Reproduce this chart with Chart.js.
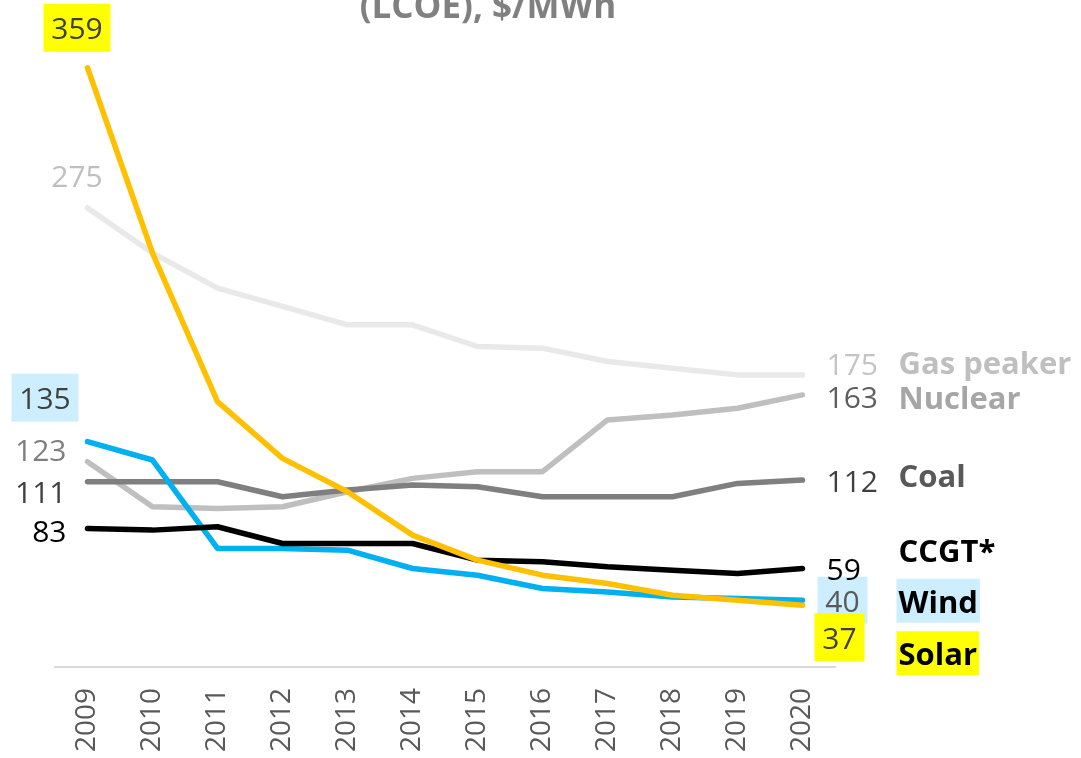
<!DOCTYPE html>
<html><head><meta charset="utf-8">
<script src="https://cdn.jsdelivr.net/npm/chart.js@4"></script>
<style>html,body{margin:0;padding:0;background:#fff;overflow:hidden}#wrap{width:1081px;height:758px;position:relative}</style>
</head><body><div id="wrap"><canvas id="c"></canvas></div>
<script>
// ---- data ----
const years = ['2009','2010','2011','2012','2013','2014','2015','2016','2017','2018','2019','2020'];
const gasPeaker = [275, 248, 227, 216, 205, 205, 192, 191, 183, 179, 175, 175];
const nuclear   = [123, 96, 95, 96, 105, 113, 117, 117, 148, 151, 155, 163];
const coal      = [111, 111, 111, 102, 106, 109, 108, 102, 102, 102, 110, 112];
const ccgt      = [83, 82, 84, 74, 74, 74, 64, 63, 60, 58, 56, 59];
const wind      = [135, 124, 71, 71, 70, 59, 55, 47, 45, 42, 41, 40];
const solar     = [359, 248, 159, 125, 105, 79, 64, 55, 50, 43, 40, 37];
const seriesNames = ['Gas peaker', 'Nuclear', 'Coal', 'CCGT*', 'Wind', 'Solar'];
const titleText = '(LCOE), $/MWh';

// ---- styles ----
const FONT = '"Open Sans", "Noto Sans", sans-serif';
const BLUEBOX = '#cdeeff', YELBOX = '#ffff00';
const styles = [
  {line:'#e9e9e9', order:5,
   first:{dx:-10.5, dy:-32, align:'center', color:'#bfbfbf'},
   last:{dx:24, dy:-10, align:'left', color:'#c4c4c4'},
   name:{dy:-12, color:'#bfbfbf'}},
  {line:'#bfbfbf', order:4,
   first:{dx:-21, dy:-11, align:'right', color:'#7f7f7f'},
   last:{dx:24, dy:3, align:'left', color:'#5f5f5f'},
   name:{dy:3.5, color:'#a6a6a6'}},
  {line:'#7f7f7f', order:3,
   first:{dx:-21, dy:11, align:'right', color:'#404040'},
   last:{dx:24, dy:1, align:'left', color:'#404040'},
   name:{dy:-3.5, color:'#595959'}},
  {line:'#000000', order:1,
   first:{dx:-21, dy:3, align:'right', color:'#000000'},
   last:{dx:24, dy:1, align:'left', color:'#000000'},
   name:{dy:-17.5, color:'#000000'}},
  {line:'#00b0f0', order:2,
   first:{dx:-42.5, dy:-43, align:'center', color:'#404040', box:{fill:BLUEBOX, w:67, h:48}},
   last:{dx:40, dy:1, align:'center', color:'#595959', box:{fill:BLUEBOX, w:50, h:47}},
   name:{dy:1.5, color:'#000000', box:{fill:BLUEBOX, padX:2, h:44}}},
  {line:'#ffc000', order:0,
   first:{dx:-10.5, dy:-39, align:'center', color:'#404040', box:{fill:YELBOX, w:67, h:48}},
   last:{dx:37, dy:33, align:'center', color:'#404040', box:{fill:YELBOX, w:50, h:48}},
   name:{dy:49, color:'#000000', box:{fill:YELBOX, padX:2, h:44}}}
];
const seriesValues = [gasPeaker, nuclear, coal, ccgt, wind, solar];

function labelBox(ctx, text, x, y, align, font, box) {
  if (!box) return;
  ctx.save();
  ctx.font = font;
  const w = ctx.measureText(text).width;
  const bw = box.w || (w + 2 * (box.padX || 0));
  let left;
  if (align === 'center') left = x - bw / 2;
  else if (align === 'left') left = x - (box.padX || 0);
  else left = x - w - (box.padX || 0);
  ctx.fillStyle = box.fill;
  ctx.fillRect(left, y - box.h / 2 - 1, bw, box.h);
  ctx.restore();
}
function labelText(ctx, text, x, y, align, color, font) {
  ctx.save();
  ctx.font = font;
  ctx.textBaseline = 'middle';
  ctx.fillStyle = color;
  ctx.textAlign = align;
  ctx.fillText(text, x, y + 2);
  ctx.restore();
}

const labelPlugin = {
  id: 'endLabels',
  afterDatasetsDraw(chart) {
    const ctx = chart.ctx;
    const numFont = '30px ' + FONT;
    const nameFont = 'bold 31px ' + FONT;
    const items = [];
    chart.data.datasets.forEach((ds, i) => {
      const meta = chart.getDatasetMeta(i);
      const st = styles[i];
      const p0 = meta.data[0], pn = meta.data[meta.data.length - 1];
      const vals = seriesValues[i];
      items.push([String(vals[0]), p0.x + st.first.dx, p0.y + st.first.dy, st.first.align, st.first.color, numFont, st.first.box]);
      items.push([String(vals[vals.length - 1]), pn.x + st.last.dx, pn.y + st.last.dy, st.last.align, st.last.color, numFont, st.last.box]);
      items.push([seriesNames[i], pn.x + 96, pn.y + st.name.dy, 'left', st.name.color, nameFont, st.name.box]);
    });
    items.forEach(it => labelBox(ctx, it[0], it[1], it[2], it[3], it[5], it[6]));
    items.forEach(it => labelText(ctx, it[0], it[1], it[2], it[3], it[4], it[5]));
    // title (second line visible at top)
    ctx.save();
    ctx.font = 'bold 35px ' + FONT;
    ctx.fillStyle = '#808080';
    ctx.textAlign = 'center';
    ctx.textBaseline = 'alphabetic';
    ctx.fillText(titleText, 488, 18);
    ctx.restore();
  }
};

const datasets = seriesNames.map((name, i) => ({
  label: name,
  data: seriesValues[i],
  borderColor: styles[i].line,
  backgroundColor: styles[i].line,
  borderWidth: 5.5,
  borderCapStyle: 'round',
  borderJoinStyle: 'round',
  pointRadius: 0,
  pointHoverRadius: 0,
  tension: 0,
  fill: false,
  order: styles[i].order
}));

new Chart(document.getElementById('c'), {
  type: 'line',
  data: { labels: years, datasets },
  plugins: [labelPlugin],
  options: {
    responsive: true,
    maintainAspectRatio: false,
    animation: false,
    layout: { padding: { left: 55, right: 246, top: 16, bottom: 0 } },
    plugins: { legend: { display: false }, tooltip: { enabled: false }, title: { display: false } },
    scales: {
      x: {
        offset: true,
        grid: { display: false, drawTicks: false },
        border: { display: true, color: '#d9d9d9', width: 2 },
        ticks: { minRotation: 90, maxRotation: 90, padding: 21, color: '#595959', font: { family: FONT, size: 28 } },
        afterFit: (s) => { s.height = 91; }
      },
      y: { display: false, min: 0, max: 390 }
    }
  }
});
</script>
</body></html>
